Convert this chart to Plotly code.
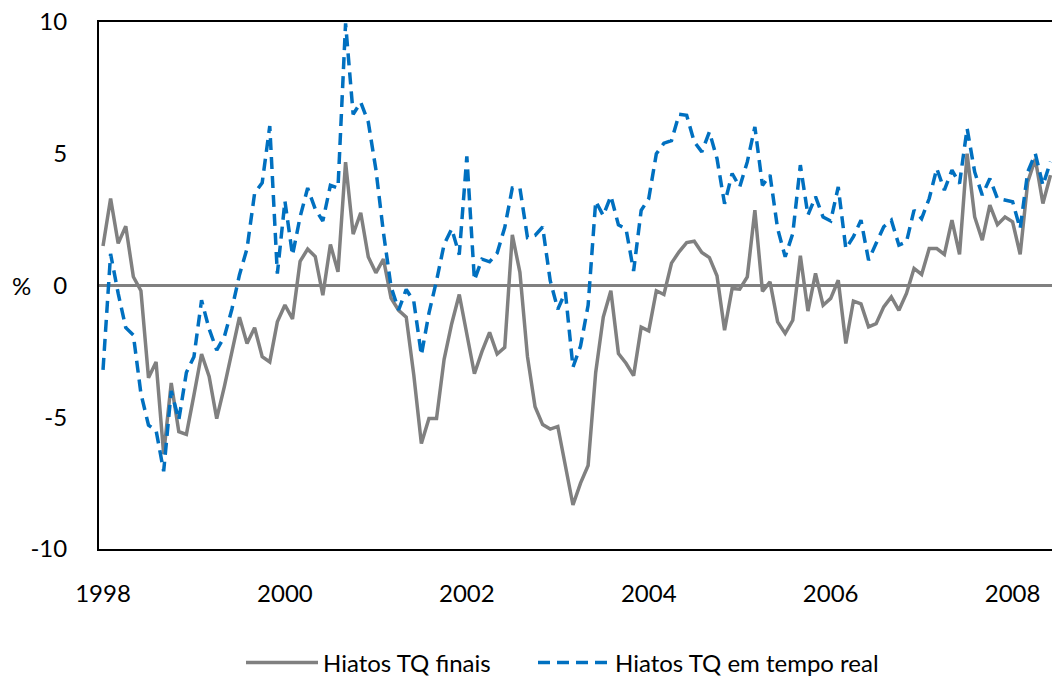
import plotly.graph_objects as go

# Monthly output-gap estimates, Jan 1998 onwards (%)
hiatos_finais = [
    1.5, 3.3, 1.6, 2.25, 0.33, -0.2, -3.5, -2.9, -6.4, -3.7, -5.55, -5.65,
    -4.15, -2.6, -3.45, -5.05, -3.85, -2.5, -1.2, -2.2, -1.6, -2.7, -2.9, -1.38,
    -0.74, -1.27, 0.92, 1.38, 1.1, -0.37, 1.56, 0.52, 4.68, 1.95, 2.76, 1.08,
    0.48, 1.0, -0.48, -0.94, -1.2, -3.4, -6.0, -5.05, -5.05, -2.8, -1.45, -0.34,
    -1.8, -3.35, -2.5, -1.78, -2.6, -2.35, 1.92, 0.5, -2.7, -4.6, -5.28, -5.45,
    -5.35, -6.8, -8.33, -7.5, -6.83, -3.3, -1.2, -0.2, -2.58, -2.95, -3.42, -1.58,
    -1.72, -0.2, -0.34, 0.85, 1.28, 1.63, 1.68, 1.25, 1.06, 0.37, -1.7, -0.11,
    -0.14, 0.33, 2.86, -0.22, 0.14, -1.38, -1.82, -1.32, 1.13, -0.97, 0.46, -0.75,
    -0.49, 0.2, -2.2, -0.59, -0.7, -1.57, -1.45, -0.81, -0.43, -0.94, -0.3, 0.65,
    0.42, 1.4, 1.4, 1.18, 2.48, 1.18, 5.0, 2.6, 1.72, 3.05, 2.31, 2.6,
    2.42, 1.18, 3.93, 4.8, 3.11, 4.19,
]

hiatos_tempo_real = [
    -3.2, 1.2, -0.3, -1.6, -1.88, -4.1, -5.3, -5.5, -7.05, -4.0, -5.1, -3.3,
    -2.7, -0.56, -1.65, -2.45, -1.95, -0.9, 0.4, 1.4, 3.5, 3.9, 6.05, 0.45,
    3.2, 1.15, 2.6, 3.7, 2.9, 2.45, 3.8, 3.7, 9.95, 6.5, 6.95, 6.2,
    4.4, 2.0, -0.05, -0.93, -0.15, -0.6, -2.64, -1.05, 0.18, 1.56, 2.15, 1.17,
    4.9, 0.2, 1.0, 0.9, 1.23, 2.2, 3.7, 3.7, 1.82, 1.9, 2.22, 0.18,
    -0.9, -0.25, -3.1, -2.3, -0.75, 3.2, 2.65, 3.4, 2.3, 2.15, 0.55, 2.85,
    3.3, 5.0, 5.4, 5.5, 6.5, 6.46, 5.45, 5.07, 5.83, 4.82, 3.1, 4.25,
    3.74, 4.69, 6.02, 3.8, 4.19, 2.16, 1.09, 1.97, 4.57, 2.67, 3.37, 2.6,
    2.45, 3.74, 1.4, 1.85, 2.48, 0.96, 1.6, 2.23, 2.48, 1.53, 1.66, 2.86,
    2.54, 3.3, 4.44, 3.62, 4.38, 3.87, 5.96, 4.31, 3.43, 4.06, 3.3, 3.24,
    3.18, 2.16, 4.31, 5.0, 3.8, 4.7,
]

start_year = 1998
label_years = [1998, 2000, 2002, 2004, 2006, 2008]
y_ticks = [10, 5, 0, -5, -10]

series_names = ["Hiatos TQ finais", "Hiatos TQ em tempo real"]

month_index = list(range(len(hiatos_finais)))
tick_positions = [12 * (yr - start_year) for yr in label_years]
tick_text = [str(yr) for yr in label_years]

FONT = "Lato, 'Open Sans', sans-serif"
FONT_SIZE = 24

fig = go.Figure()
fig.add_trace(go.Scatter(
    x=month_index, y=hiatos_finais, mode="lines", name=series_names[0],
    line=dict(color="#808080", width=3.5), legend="legend",
))
fig.add_trace(go.Scatter(
    x=month_index, y=hiatos_tempo_real, mode="lines", name=series_names[1],
    line=dict(color="#0070C0", width=3.5, dash="12px,7px"), legend="legend2",
))

legend_style = dict(
    orientation="h", xref="container", yref="container",
    xanchor="left", y=0.021, yanchor="middle", itemwidth=72,
    font=dict(family=FONT, size=FONT_SIZE, color="#000000"),
    bgcolor="rgba(0,0,0,0)", borderwidth=0,
)

fig.update_layout(
    width=1052, height=677,
    margin=dict(l=99, r=0, t=22, b=128),
    paper_bgcolor="white", plot_bgcolor="white",
    font=dict(family=FONT, size=FONT_SIZE, color="#000000"),
    showlegend=True,
    legend=dict(legend_style, x=241 / 1052),
    legend2=dict(legend_style, x=533 / 1052),
    xaxis=dict(
        range=[-0.53, 125.2], tickmode="array",
        tickvals=tick_positions, ticktext=tick_text,
        showgrid=False, zeroline=False,
        showline=True, linecolor="#000000", linewidth=2, mirror=True,
        ticks="", ticklabelstandoff=22,
        tickfont=dict(family=FONT, size=FONT_SIZE, color="#000000"),
    ),
    yaxis=dict(
        range=[-10, 10], tickmode="array", tickvals=y_ticks,
        ticktext=[str(v) for v in y_ticks],
        showgrid=False, zeroline=True, zerolinecolor="#808080", zerolinewidth=2.5,
        showline=True, linecolor="#000000", linewidth=2, mirror=False,
        ticks="", ticklabelstandoff=25,
        tickfont=dict(family=FONT, size=FONT_SIZE, color="#000000"),
    ),
    annotations=[dict(
        text="%", xref="paper", yref="y", x=-0.0818, y=0,
        xanchor="center", yanchor="middle", showarrow=False,
        font=dict(family=FONT, size=FONT_SIZE, color="#000000"),
    )],
)

fig.write_html("out.html")
